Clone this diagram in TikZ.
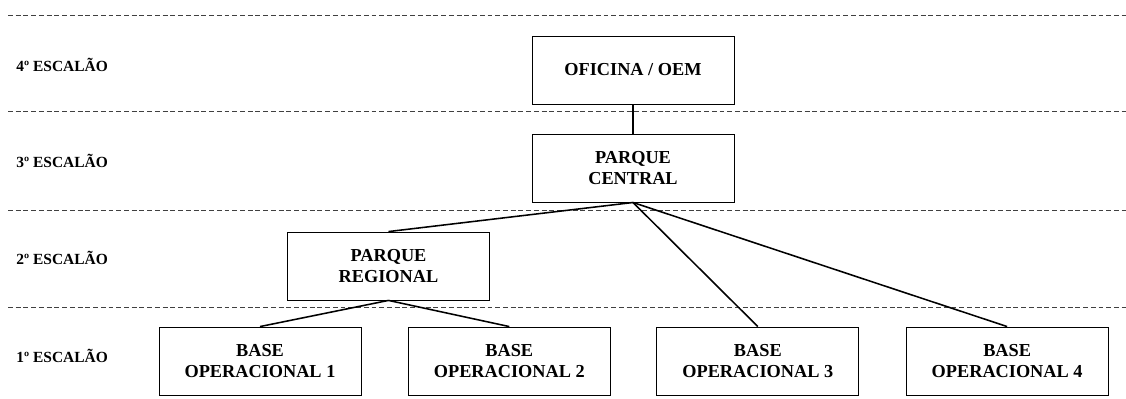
\documentclass[tikz,border=0pt]{standalone}
\usepackage{fontspec}
\setmainfont{Liberation Serif}
\usetikzlibrary{positioning}

\begin{document}
\begin{tikzpicture} [x=0.025cm, y=-0.025cm, every node/.style={rectangle, draw, line width=.6pt, minimum width=5.05cm, minimum height=1.7cm, align=center, font=\fontsize{13}{15.5}\selectfont\bfseries}]
\tikzstyle{escalao}=[draw=none, minimum width=0, minimum height=0, inner sep=0, anchor=west, font=\fontsize{11}{13}\selectfont\bfseries]
\tikzstyle{nivel}=[black!75, dash pattern=on 3.5pt off 2pt, line width=.5pt]
\tikzstyle{ramo}=[line width=1.1pt]
\useasboundingbox (0,0) rectangle (1126,399);

% separadores dos escaloes
\foreach \y in {15,111,210,307}
  \draw [nivel] (8,\y) -- (1126,\y);

\node [escalao] (e4) at (16,65) {4º ESCALÃO};
\node [escalao] (e3) at (16,161) {3º ESCALÃO};
\node [escalao] (e2) at (16,258) {2º ESCALÃO};
\node [escalao] (e1) at (16,356) {1º ESCALÃO};

\node (oem) at (633,70) {OFICINA / OEM};
\node [below=.73cm of oem] (central) {PARQUE\\CENTRAL};
\node (regional) at (388.5,266) {PARQUE\\REGIONAL};

\node (base1) at (260,361) {BASE\\OPERACIONAL 1};
\node [right=1.16cm of base1] (base2) {BASE\\OPERACIONAL 2};
\node [right=1.14cm of base2] (base3) {BASE\\OPERACIONAL 3};
\node [right=1.16cm of base3] (base4) {BASE\\OPERACIONAL 4};

\draw [ramo] (oem.south) -- (central.north);
\draw [ramo] (central.south) -- (regional.north);
\draw [ramo] (central.south) -- (base3.north);
\draw [ramo] (central.south) -- (base4.north);
\draw [ramo] (regional.south) -- (base1.north);
\draw [ramo] (regional.south) -- (base2.north);
\end{tikzpicture}
\end{document}
